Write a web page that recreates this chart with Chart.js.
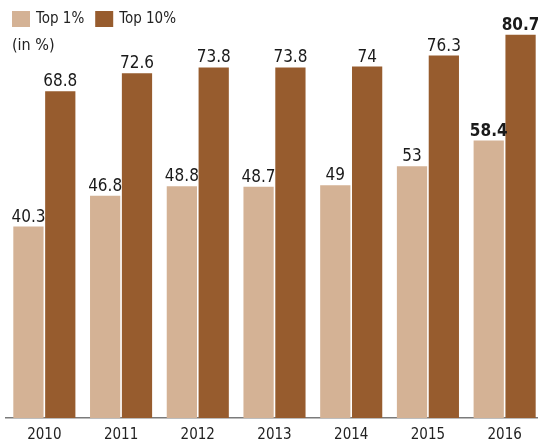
<!DOCTYPE html>
<html>
<head>
<meta charset="utf-8">
<script src="https://cdn.jsdelivr.net/npm/chart.js@4"></script>
<style>
  html, body { margin: 0; padding: 0; background: #fff; }
  #wrap { position: relative; width: 538px; height: 442px; overflow: hidden; }
</style>
</head>
<body>
<div id="wrap">
  <canvas id="chart" width="545" height="452"></canvas>
</div>
<script>
const years = ['2010', '2011', '2012', '2013', '2014', '2015', '2016'];
const top1 = [40.3, 46.8, 48.8, 48.7, 49, 53, 58.4];
const top10 = [68.8, 72.6, 73.8, 73.8, 74, 76.3, 80.7];
const seriesNames = ['Top 1%', 'Top 10%'];
const unitNote = '(in %)';
const colors = ['#d4b295', '#975c2e'];
const fontFamily = '"DejaVu Sans Condensed", "DejaVu Sans", sans-serif';

// labels above each bar, last year in bold
const valueLabels = {
  id: 'valueLabels',
  afterDatasetsDraw(chart) {
    const ctx = chart.ctx;
    ctx.save();
    ctx.fillStyle = '#1a1a1a';
    ctx.textAlign = 'center';
    ctx.textBaseline = 'alphabetic';
    chart.data.datasets.forEach((ds, i) => {
      chart.getDatasetMeta(i).data.forEach((bar, j) => {
        const bold = j === ds.data.length - 1;
        ctx.font = (bold ? 'bold ' : '') + '17px ' + fontFamily;
        ctx.fillText(String(ds.data[j]), bar.x, bar.y - 5);
      });
    });
    ctx.restore();
  }
};

// legend row + unit note in the top left corner
const topLegend = {
  id: 'topLegend',
  afterDraw(chart) {
    const ctx = chart.ctx;
    ctx.save();
    ctx.font = '15px ' + fontFamily;
    ctx.textBaseline = 'middle';
    ctx.fillStyle = '#222';
    let x = 12;
    chart.data.datasets.forEach(ds => {
      ctx.fillStyle = ds.backgroundColor;
      ctx.fillRect(x, 11, 18, 16);
      ctx.fillStyle = '#222';
      ctx.fillText(ds.label, x + 24, 19);
      x += 24 + ctx.measureText(ds.label).width + 11;
    });
    ctx.font = '16px ' + fontFamily;
    ctx.fillText(unitNote, 12, 46);
    ctx.restore();
  }
};

new Chart(document.getElementById('chart'), {
  type: 'bar',
  data: {
    labels: years,
    datasets: [
      { label: seriesNames[0], data: top1, backgroundColor: colors[0] },
      { label: seriesNames[1], data: top10, backgroundColor: colors[1] }
    ]
  },
  options: {
    responsive: false,
    animation: false,
    layout: { padding: { left: 6, right: 2, top: 0, bottom: 0 } },
    datasets: { bar: { categoryPercentage: 0.83, barPercentage: 0.95 } },
    plugins: {
      legend: { display: false },
      tooltip: { enabled: false }
    },
    scales: {
      x: {
        grid: { display: false, drawTicks: false },
        border: { display: true, color: '#7a7a7a', width: 1.5 },
        ticks: { color: '#222', padding: 8, font: { family: fontFamily, size: 15 } }
      },
      y: { display: false, min: 0, max: 88 }
    }
  },
  plugins: [valueLabels, topLegend]
});
</script>
</body>
</html>
